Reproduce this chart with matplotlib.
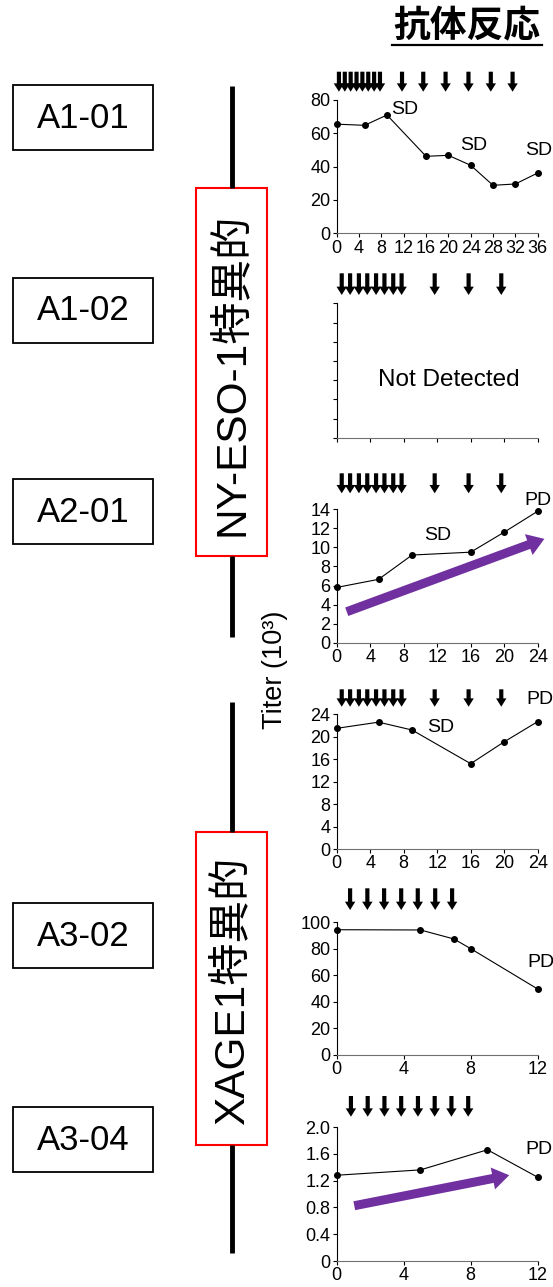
import numpy as np
import matplotlib.pyplot as plt
from matplotlib.patches import Rectangle

plt.rcParams['font.family'] = ['Liberation Sans', 'Noto Sans CJK JP']

W, H = 553, 1287

# labels
title = "抗体反応"
patients = ["A1-01", "A1-02", "A2-01", "A3-02", "A3-04"]
antigens = ["NY-ESO-1特異的", "XAGE1特異的"]
ylabel = "Titer (10³)"

# titer (x10^3) by week
a101_wk = [0, 5, 9, 16, 20, 24, 28, 32, 36]
a101_titer = [65.5, 64.8, 71, 46.2, 46.8, 40.8, 28.8, 29.6, 36.2]
a201_wk = [0, 5, 9, 16, 20, 24]
a201_ny = [5.8, 6.65, 9.2, 9.5, 11.6, 13.8]
a201_xage = [21.5, 22.6, 21.2, 15.2, 19.1, 22.7]
a302_wk = [0, 5, 7, 8, 12]
a302_titer = [94.4, 94.2, 87.4, 80.1, 49.6]
a304_wk = [0, 5, 9, 12]
a304_titer = [1.28, 1.36, 1.66, 1.25]

# vaccination weeks (arrows)
inj_a101 = [0.4, 1.45, 2.5, 3.55, 4.6, 5.65, 6.7, 7.75, 11.7, 15.5, 19.5, 23.6, 27.6, 31.5]
inj_a2 = [0.6, 1.6, 2.65, 3.65, 4.7, 5.7, 6.75, 7.75, 11.7, 15.75, 19.65]
inj_a302 = [0.8, 1.83, 2.83, 3.85, 4.84, 5.88, 6.89]
inj_a304 = [0.85, 1.85, 2.85, 3.85, 4.85, 5.85, 6.85, 7.85]

# response labels: (text, week, titer)
resp_a101 = [("SD", 12.2, 74.4), ("SD", 24.6, 52.6), ("SD", 36.2, 49.6)]
resp_a201_ny = [("SD", 12.0, 11.3), ("PD", 24.0, 14.9)]
resp_a201_xage = [("SD", 12.4, 21.6), ("PD", 24.3, 26.6)]
resp_a302 = [("PD", 12.2, 69.8)]
resp_a304 = [("PD", 12.1, 1.66)]

# trend arrows (start, end) in data units
trend_a201 = ((1.2, 3.25), (24.8, 10.9))
trend_a304 = ((1.05, 0.825), (10.3, 1.28))

fig = plt.figure(figsize=(W / 100, H / 100), dpi=100)

# overlay in pixel coordinates for the left-hand layout
bg = fig.add_axes([0, 0, 1, 1])
bg.set_xlim(0, W)
bg.set_ylim(H, 0)
bg.axis('off')

bg.text(467, 27, title, fontsize=26.5, fontweight='bold', ha='center', va='center',
        family='Noto Sans CJK JP')
bg.plot([392, 542], [45, 45], color='black', lw=1.6)

box_mid = [117.5, 310, 511, 935, 1139.5]
for name, yc in zip(patients, box_mid):
    bg.add_patch(Rectangle((13.3, yc - 32.5), 139.4, 65, fill=False, ec='black', lw=1.3))
    bg.text(83, yc + 1, name, fontsize=25, ha='center', va='center')

for y0, y1 in [(86, 188), (556, 637), (702, 832), (1145, 1253)]:
    bg.plot([232, 232], [y0, y1], color='black', lw=3.5, solid_capstyle='butt')

for label, (y0, y1) in zip(antigens, [(188.3, 555.7), (831.7, 1145)]):
    bg.add_patch(Rectangle((195.7, y0), 71.6, y1 - y0, fc='white', ec='#ff0000', lw=1.5))
    bg.text(232, (y0 + y1) / 2 + 2, label, fontsize=30.5, rotation=90, ha='center', va='center')

bg.text(275, 670, ylabel, fontsize=19.5, rotation=90, ha='center', va='center')


def fmt_tick(v, dec):
    if v == 0:
        return "0"
    return f"{v:.{dec}f}"


def panel(top, bottom, xmax, ymax, ystep, inj, tip, tail, x=None, y=None,
          ylabels=True, dec=0, resp=(), trend=None, note=None):
    left, right = 336.7, 537.7
    ax = fig.add_axes([left / W, 1 - bottom / H, (right - left) / W, (bottom - top) / H])
    ax.set_xlim(0, xmax)
    ax.set_ylim(0, ymax)
    ax.patch.set_alpha(0)
    for s in ['top', 'right']:
        ax.spines[s].set_visible(False)
    ax.spines['left'].set_color('black')
    ax.spines['bottom'].set_color('#707070')
    ax.set_xticks(np.arange(0, xmax + 0.01, 4))
    yt = np.arange(0, ymax + ystep / 2, ystep)
    ax.set_yticks(yt)
    ax.tick_params(direction='out', length=3, width=0.8, labelsize=13, pad=1.5)
    if ylabels:
        ax.set_yticklabels([fmt_tick(v, dec) for v in yt])
    else:
        ax.set_yticklabels([])
        ax.set_xticklabels([])
    h = bottom - top
    trans = ax.get_xaxis_transform()
    for w in inj:
        ax.annotate('', xy=(w, 1 + (top - tip) / h), xycoords=trans,
                    xytext=(w, 1 + (top - tail) / h), textcoords=trans,
                    arrowprops=dict(facecolor='black', edgecolor='none', width=3.0,
                                    headwidth=7.5, headlength=6, shrink=0),
                    annotation_clip=False)
    if trend is not None:
        ax.annotate('', xy=trend[1], xytext=trend[0],
                    arrowprops=dict(facecolor='#7030a0', edgecolor='none', width=6.5,
                                    headwidth=16, headlength=12, shrink=0),
                    annotation_clip=False)
    if x is not None:
        ax.plot(x, y, color='black', lw=0.8, marker='o', markersize=4, clip_on=False)
    for t, tx, ty in resp:
        ax.text(tx, ty, t, fontsize=14, ha='center', va='center')
    if note:
        ax.text(xmax * 0.56, ymax * 0.43, note, fontsize=17.5, ha='center', va='center')
    return ax


panel(100, 233.3, 36, 80, 20, inj_a101, 91.7, 71.7, a101_wk, a101_titer, resp=resp_a101)
panel(303.3, 437.7, 24, 14, 2, inj_a2, 295, 273.3, ylabels=False, note="Not Detected")
panel(509.3, 642.7, 24, 14, 2, inj_a2, 493.3, 473.3, a201_wk, a201_ny,
      resp=resp_a201_ny, trend=trend_a201)
panel(714.3, 849, 24, 24, 4, inj_a2, 706.7, 689.3, a201_wk, a201_xage, resp=resp_a201_xage)
panel(922.3, 1054.7, 12, 100, 20, inj_a302, 910, 888.3, a302_wk, a302_titer, resp=resp_a302)
panel(1127, 1261, 12, 2.0, 0.4, inj_a304, 1116.7, 1096, a304_wk, a304_titer,
      dec=1, resp=resp_a304, trend=trend_a304)

fig.savefig('out.png', dpi=100)
